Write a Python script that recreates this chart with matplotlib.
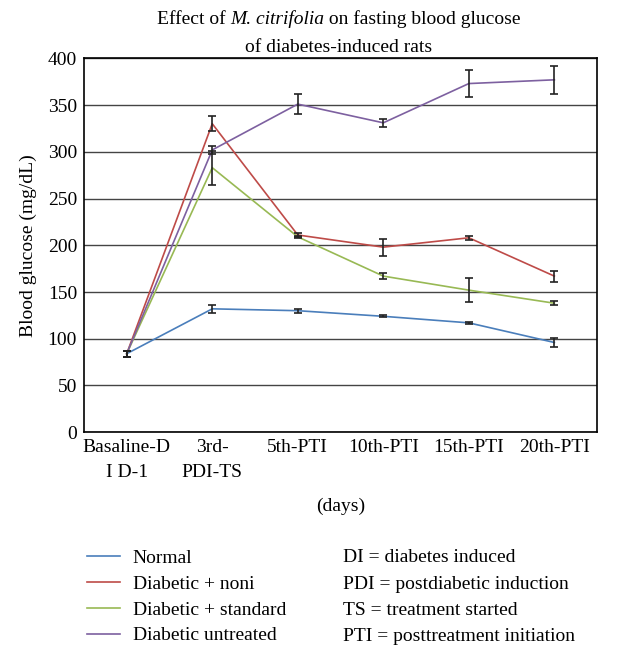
import matplotlib
matplotlib.use("Agg")
from matplotlib import pyplot as plt
import numpy as np

plt.rcParams['font.family'] = ['Liberation Serif', 'DejaVu Serif']

days = ['Basaline-D\nI D-1', '3rd-\nPDI-TS', '5th-PTI', '10th-PTI', '15th-PTI', '20th-PTI']

normal = [84, 132, 130, 124, 117, 96]
normal_err = [3, 4, 2, 1, 1, 5]
noni = [84, 330, 211, 198, 208, 167]
noni_err = [3, 8, 2, 9, 2, 6]
standard = [84, 283, 209, 167, 152, 138]
standard_err = [3, 18, 1, 3, 13, 2]
untreated = [84, 302, 351, 331, 373, 377]
untreated_err = [3, 4, 11, 4, 14, 15]

names = ['Normal', 'Diabetic + noni', 'Diabetic + standard', 'Diabetic untreated']
colors = ['#4a7ebb', '#be4b48', '#98b954', '#7d60a0']
abbrevs = ['DI = diabetes induced', 'PDI = postdiabetic induction',
           'TS = treatment started', 'PTI = posttreatment initiation']

fs = 14
fig = plt.figure(figsize=(6.22, 6.48), dpi=100)
ax = fig.add_axes([0.135, 0.333, 0.825, 0.577])

x = np.arange(len(days))
series = [(normal, normal_err), (noni, noni_err), (standard, standard_err), (untreated, untreated_err)]
handles = []
for (vals, errs), c, n in zip(series, colors, names):
    ln, = ax.plot(x, vals, color=c, lw=1.2, label=n, zorder=3)
    ax.errorbar(x, vals, yerr=errs, fmt='none', ecolor='#222222', elinewidth=1.2,
                capsize=3, capthick=1.2, zorder=4)
    handles.append(ln)

ax.set_xlim(-0.5, 5.5)
ax.set_ylim(0, 400)
ax.set_yticks(np.arange(0, 401, 50))
ax.set_xticks(x)
ax.set_xticklabels(days, fontsize=fs, linespacing=1.6)
ax.tick_params(axis='both', length=0, labelsize=fs, pad=5)
ax.yaxis.grid(True, color='#444444', lw=1)
ax.set_axisbelow(True)
for s in ax.spines.values():
    s.set_color('black')
    s.set_linewidth(1.2)
ax.set_ylabel('Blood glucose (mg/dL)', fontsize=fs, labelpad=8)
ax.set_xlabel('(days)', fontsize=fs, labelpad=12)

# title line 1, italic species name placed between plain pieces
parts = [('Effect of ', 'normal'), ('M. citrifolia', 'italic'), (' on fasting blood glucose', 'normal')]
fig.canvas.draw()
r = fig.canvas.get_renderer()
txts = [fig.text(0, 0.970, p, style=st, fontsize=fs, ha='left', va='center') for p, st in parts]
widths = [t.get_window_extent(r).width for t in txts]
x0 = (0.545 * fig.bbox.width - sum(widths) / 2)
for t, w in zip(txts, widths):
    t.set_x(x0 / fig.bbox.width)
    x0 += w
fig.text(0.545, 0.927, 'of diabetes-induced rats', ha='center', va='center', fontsize=fs)

fig.legend(handles=handles, labels=names, loc='upper left', bbox_to_anchor=(0.14, 0.152),
           frameon=False, fontsize=fs, handlelength=1.7, handletextpad=0.65,
           labelspacing=0.42, borderaxespad=0, borderpad=0)
for i, t in enumerate(abbrevs):
    fig.text(0.551, 0.139 - i * 0.0403, t, ha='left', va='center', fontsize=fs)

fig.savefig('out.png', dpi=100)
